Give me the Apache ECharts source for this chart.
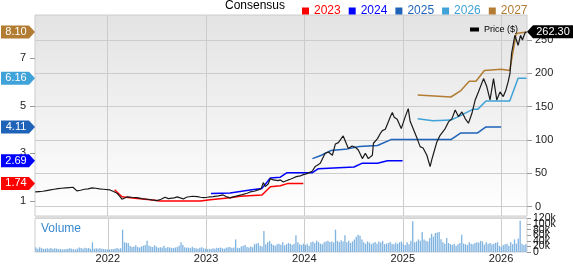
<!DOCTYPE html>
<html><head><meta charset="utf-8">
<script src="https://cdn.jsdelivr.net/npm/echarts@6/dist/echarts.min.js"></script>
<style>html,body{margin:0;padding:0;background:#fff}#c{width:573px;height:264px}</style>
</head><body><div id="c"></div>
<script>
// ---------- data ----------
const priceTicks = [0, 50, 100, 150, 200, 250];
const epsTicks = [1, 3, 5, 7];
const volumeTicks = [0, 20000, 40000, 60000, 80000, 100000, 120000];
const legendNames = ['2023', '2024', '2025', '2026', '2027'];

const priceDates = [
'2021-04-09','2021-04-23','2021-05-07','2021-05-21','2021-06-04','2021-06-18','2021-07-02','2021-07-16','2021-07-30','2021-08-13','2021-08-27','2021-09-10','2021-09-24','2021-10-08','2021-10-22','2021-11-05','2021-11-19','2021-12-03','2021-12-17',
'2022-01-11','2022-01-22','2022-02-06','2022-02-17','2022-02-24','2022-03-07','2022-03-15','2022-04-02','2022-04-21','2022-05-09','2022-05-28','2022-06-15','2022-07-04','2022-07-19','2022-08-03','2022-08-15','2022-08-22','2022-09-06','2022-09-17','2022-09-28','2022-10-10','2022-10-21','2022-10-28','2022-11-12','2022-12-01','2022-12-12','2022-12-23',
'2023-01-06','2023-01-17','2023-01-28','2023-02-16','2023-03-06','2023-03-17','2023-04-01','2023-04-16','2023-04-27','2023-05-16','2023-06-03','2023-06-14','2023-06-29','2023-07-14','2023-07-25','2023-08-02','2023-08-09','2023-08-20','2023-08-28','2023-09-08','2023-09-15','2023-09-26','2023-10-04','2023-10-15','2023-10-22','2023-11-02','2023-11-10','2023-11-21','2023-12-02','2023-12-17','2023-12-28',
'2024-01-08','2024-01-19','2024-01-30','2024-02-10','2024-02-18','2024-02-29','2024-03-07','2024-03-18','2024-03-30','2024-04-06','2024-04-14','2024-04-25','2024-05-06','2024-05-13','2024-05-24','2024-06-04','2024-06-12','2024-06-19','2024-06-26','2024-07-08','2024-07-19','2024-08-03','2024-08-14','2024-08-25','2024-09-01','2024-09-09','2024-09-13','2024-09-28','2024-10-09','2024-10-16','2024-10-27','2024-11-07','2024-11-15','2024-11-22','2024-11-29','2024-12-10','2024-12-25',
'2025-01-09','2025-01-20','2025-01-27','2025-02-04','2025-02-11','2025-02-22','2025-03-05','2025-03-16','2025-03-30','2025-04-11','2025-04-17','2025-04-24','2025-05-06','2025-05-18','2025-06-06','2025-06-18','2025-07-01','2025-07-13','2025-07-25','2025-08-07','2025-08-19','2025-08-31','2025-09-13','2025-09-25','2025-10-07','2025-10-26','2025-11-07','2025-11-19','2025-12-02','2025-12-14','2025-12-26',
'2026-01-07','2026-01-17','2026-01-25','2026-02-01','2026-02-07','2026-02-19','2026-03-03','2026-03-12','2026-03-19','2026-03-28','2026-04-03'];
const priceValues = [
22,22.5,23,24,25,26,27,27.5,28,28.5,29,23.5,24.5,26,26.5,28,27.5,26.5,26,
25,23,20,15,11,13,14.5,14,13.5,12,11,10,9,11,14,12,11.5,13,14.5,13,11.5,14,16,15.5,15,14,13.5,
14,14.5,15,16,17.5,15,13,15,16,18,20,22,23,25,27,36,30,34,42,40,37,39,40,37,38,40,41,43,45,46,48,
49,51,53,60,62,65,67,80,82,85,77,94,96,97,106,95,87,90,91,89,85,72,80,72,75,77,95,102,110,114,116,127,135,141,134,131,117,
135,147,128,120,119,102,90,88,77,60,70,80,97,107,117,127,132,145,135,142,132,125,140,160,172,192,180,160,192,160,172,
165,175,187,200,230,257,242,257,250,260,262.3];

const eps2023Dates = ['2022-01-28','2022-02-24','2022-04-14','2022-06-09','2022-07-16','2022-12-12','2023-01-17','2023-04-01','2023-05-08','2023-07-28','2023-08-28','2023-10-04','2023-11-02','2023-12-28'];
const eps2023 = [1.47,1.18,1.12,1.05,1.0,1.0,1.05,1.14,1.2,1.25,1.6,1.64,1.74,1.74];
const eps2024Dates = ['2023-01-20','2023-04-01','2023-06-14','2023-07-28','2023-08-28','2023-10-04','2023-10-29','2024-01-31','2024-02-22','2024-07-03','2024-08-03','2024-09-28','2024-11-04','2024-12-30'];
const eps2024 = [1.32,1.34,1.46,1.53,1.97,2.0,2.19,2.19,2.36,2.43,2.59,2.59,2.69,2.69];
const eps2025Dates = ['2024-01-31','2024-03-02','2024-04-08','2024-06-09','2024-07-23','2024-09-28','2024-11-17','2025-06-27','2025-08-03','2025-10-04','2025-11-04','2025-12-30'];
const eps2025 = [2.78,2.91,3.12,3.19,3.29,3.33,3.58,3.58,3.86,3.86,4.11,4.11];
const eps2026Dates = ['2025-02-24','2025-04-22','2025-06-27','2025-08-03','2025-09-16','2025-10-04','2025-11-04','2026-01-31','2026-03-03','2026-04-03'];
const eps2026 = [4.46,4.37,4.40,4.60,4.85,4.85,5.20,5.20,6.16,6.16];
const eps2027Dates = ['2025-02-24','2025-06-27','2025-08-03','2025-09-03','2025-09-28','2025-10-29','2025-12-30','2026-01-31','2026-02-24','2026-04-03'];
const eps2027 = [5.45,5.37,5.64,6.03,6.03,6.48,6.54,6.48,8.04,8.10];

// weekly volume (thousands), first week 2021-04-09
const volumeStart = '2021-04-09';
const vol2021 = [16,12,17,14,11,12,13,12,14,11,13,12,10,11,9,10,11,12,13,12,10,9,12,16,14,12,15,13,14,11,35,12,13,12,13,12,11,10,9];
const vol2022 = [9,10,11,12,14,12,13,80,35,33,32,22,18,20,24,18,16,20,22,25,40,22,20,18,24,19,15,17,16,22,14,18,16,15,14,16,18,22,35,25,17,15,16,14,19,14,13,12,15,17,13,12];
const vol2023 = [10,12,11,13,12,15,14,16,13,12,15,17,18,14,16,45,15,14,20,22,25,18,16,20,17,28,30,32,22,20,75,28,35,40,30,25,22,28,30,26,35,24,28,32,30,26,30,60,35,28,25,30];
const vol2024 = [25,30,22,35,38,32,40,36,30,28,35,38,40,36,38,34,80,40,36,42,38,60,35,40,32,38,45,55,62,58,45,35,30,38,34,28,32,36,30,38,34,40,28,30,32,36,30,28,34,30,35,38];
const vol2025 = [30,25,35,28,40,110,35,38,45,40,72,45,40,38,50,65,55,68,70,72,46,35,30,50,32,28,25,30,22,28,32,62,30,28,25,35,30,28,32,35,34,40,38,26,35,30,32,28,30,33,35,22];
const vol2026 = [18,25,28,30,22,35,28,45,30,48,112,30,25,28];

// ---------- build ----------
const FONT = '"Liberation Sans", Arial, sans-serif';
const xMin = '2021-04-08', xMax = '2026-04-05';
const ts = d => echarts.time.parse(d).getTime();
const YEAR = 365.25 * 86400000;
const pairs = (ds, vs) => ds.map((d, i) => [d, vs[i]]);

const volAll = [].concat(vol2021, vol2022, vol2023, vol2024, vol2025, vol2026);
const vStart = ts(volumeStart);
const volData = volAll.map((v, i) => [vStart + i * 7 * 86400000, v * 1000]);

const epsColors = ['#ff0000', '#0000ff', '#1f63b8', '#3fa2d8', '#b27c33'];
const epsSets = [[eps2023Dates, eps2023], [eps2024Dates, eps2024], [eps2025Dates, eps2025], [eps2026Dates, eps2026], [eps2027Dates, eps2027]];

const epsSeries = epsSets.map((s, k) => {
  const last = s[1][s[1].length - 1];
  return {
    name: legendNames[k], type: 'line', xAxisIndex: 0, yAxisIndex: 0,
    data: pairs(s[0], s[1]), symbol: 'none', clip: false, z: 3,
    lineStyle: { color: epsColors[k], width: 1.5 }, itemStyle: { color: epsColors[k] },
    markPoint: {
      silent: true,
      symbol: 'path://M0,0L28,0L34,6.5L28,13L0,13Z', symbolKeepAspect: false,
      symbolSize: [34, 13], symbolOffset: [-17, 0],
      itemStyle: { color: epsColors[k] },
      label: { show: true, position: 'inside', color: '#fff', fontSize: 11, fontFamily: FONT, offset: [-2, 0], formatter: () => last.toFixed(2) },
      data: [{ coord: [xMin, last], value: last }]
    }
  };
});

const xAxisCommon = {
  type: 'time', min: xMin, max: xMax, minInterval: YEAR * 0.98, maxInterval: YEAR * 1.02,
  axisLine: { show: false }, axisTick: { show: false },
  splitLine: { show: true, showMinLine: false, showMaxLine: false, lineStyle: { color: '#cccccc', width: 1 } }
};

// volume axis labels are split over three overlaid axes so none gets dropped
const volFmt = v => v === 0 ? '0' : (v / 1000) + 'k';
const volAxis = (ticks, show) => ({
  type: 'value', gridIndex: 1, position: 'right', min: 0, max: 120000,
  axisLine: { show: false },
  axisTick: { show: true, length: 4, customValues: ticks, lineStyle: { color: '#999' } },
  axisLabel: { show: true, customValues: ticks, hideOverlap: false, showMinLabel: true, showMaxLabel: true,
    fontSize: 10.5, color: '#111', margin: 6, fontFamily: FONT, formatter: volFmt },
  splitLine: { show: false }
});

const lastPrice = priceValues[priceValues.length - 1];
const option = {
  animation: false,
  textStyle: { fontFamily: FONT },
  graphic: [
    { type: 'text', x: 225, y: 6, style: { text: 'Consensus', fill: '#000', font: '12px ' + FONT, verticalAlign: 'middle' } },
    { type: 'rect', shape: { x: 35, y: 216, width: 492, height: 2.5 }, style: { fill: '#dcdcdc' }, z: 10 },
    { type: 'text', x: 41, y: 229, style: { text: 'Volume', fill: '#3a8ad0', font: '12px ' + FONT, verticalAlign: 'middle' }, z: 10 }
  ],
  legend: [
    { data: legendNames.map((n, k) => ({ name: n, textStyle: { color: epsColors[k] } })),
      left: 297, top: 0, icon: 'rect', itemWidth: 7, itemHeight: 7, itemGap: 8, selectedMode: false,
      textStyle: { fontSize: 12, fontFamily: FONT } },
    { data: ['Price ($)'], left: 465, top: 20, icon: 'rect', itemWidth: 9, itemHeight: 4, selectedMode: false,
      textStyle: { fontSize: 9, color: '#000', fontFamily: FONT } }
  ],
  grid: [
    { left: 35, right: 46, top: 15, height: 201, show: true, borderColor: '#cccccc', borderWidth: 1,
      backgroundColor: { type: 'linear', x: 0, y: 0, x2: 0, y2: 1, colorStops: [{ offset: 0, color: '#e3e3e3' }, { offset: 1, color: '#ffffff' }] } },
    { left: 35, right: 46, top: 218.5, height: 35, show: true, borderColor: '#cccccc', borderWidth: 1, backgroundColor: '#ffffff' }
  ],
  xAxis: [
    Object.assign({ gridIndex: 0, axisLabel: { show: false } }, xAxisCommon),
    Object.assign({ gridIndex: 1,
      axisLabel: { show: true, margin: 1, fontSize: 11, color: '#222', fontFamily: FONT, showMinLabel: false, showMaxLabel: false,
        formatter: v => String(new Date(v).getFullYear()) } }, xAxisCommon)
  ],
  yAxis: [
    { type: 'value', gridIndex: 0, position: 'left', min: 0.370, max: 8.815,
      axisLine: { show: false },
      axisTick: { show: true, length: 5, customValues: epsTicks, lineStyle: { color: '#999' } },
      axisLabel: { customValues: epsTicks, fontSize: 11, color: '#222', margin: 9, fontFamily: FONT },
      splitLine: { show: false } },
    { type: 'value', gridIndex: 0, position: 'right', min: -14.1, max: 287.4,
      axisLine: { show: false },
      axisTick: { show: true, length: 5, customValues: priceTicks, lineStyle: { color: '#999' } },
      axisLabel: { customValues: priceTicks, fontSize: 11, color: '#222', margin: 8, fontFamily: FONT },
      splitLine: { show: true, lineStyle: { color: '#cccccc', width: 1 } } },
    volAxis([volumeTicks[0], volumeTicks[3], volumeTicks[6]]),
    volAxis([volumeTicks[1], volumeTicks[4]]),
    volAxis([volumeTicks[2], volumeTicks[5]])
  ],
  series: [
    ...epsSeries,
    { name: 'Price ($)', type: 'line', xAxisIndex: 0, yAxisIndex: 1, data: pairs(priceDates, priceValues),
      symbol: 'none', clip: false, z: 5, lineStyle: { color: '#1a1a1a', width: 1.2 }, itemStyle: { color: '#000' },
      markPoint: {
        silent: true,
        symbol: 'path://M0,6.5L6,0L46,0L46,13L6,13Z', symbolKeepAspect: false,
        symbolSize: [46, 13], symbolOffset: [23, 0],
        itemStyle: { color: '#000' },
        label: { show: true, position: 'inside', color: '#fff', fontSize: 11, fontFamily: FONT, offset: [3, 0], formatter: () => lastPrice.toFixed(2) },
        data: [{ coord: [xMax, lastPrice], value: lastPrice }]
      } },
    { name: 'Volume', type: 'bar', xAxisIndex: 1, yAxisIndex: 2, data: volData, barWidth: 1.3,
      itemStyle: { color: '#7fb3e0' } }
  ]
};
echarts.init(document.getElementById('c'), null, { renderer: 'canvas' }).setOption(option);
</script></body></html>
